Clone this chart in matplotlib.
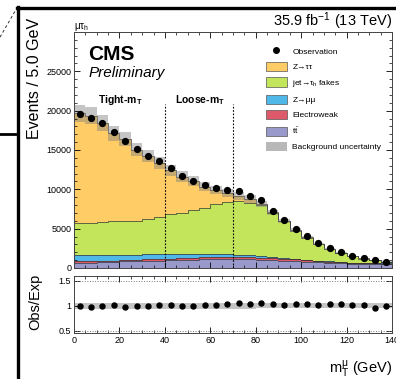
import numpy as np
import matplotlib
matplotlib.use("Agg")
import matplotlib.pyplot as plt
from matplotlib.patches import Patch
from matplotlib.lines import Line2D

plt.rcParams['font.family'] = ['Liberation Sans', 'DejaVu Sans']
plt.rcParams['mathtext.fontset'] = 'custom'
plt.rcParams['mathtext.rm'] = 'Liberation Sans'
plt.rcParams['mathtext.it'] = 'Liberation Sans:italic'
plt.rcParams['mathtext.bf'] = 'Liberation Sans:bold'

# ---------------- data (mT of the muon, 5 GeV bins) ----------------
bin_edges = np.arange(0, 145, 5)

observed = [19540, 19110, 18400, 17340, 16170, 15120, 14230, 13550, 12670, 11710,
            11110, 10610, 10190, 9940, 9760, 9090, 8590, 7290, 6150, 5010,
            4040, 3120, 2490, 2020, 1520, 1220, 960, 800]

ttbar = [680, 690, 700, 710, 860, 880, 900, 930, 980, 1020,
         1060, 1090, 1100, 1110, 1100, 1080, 1040, 1000, 950, 880,
         800, 720, 650, 600, 560, 530, 510, 490]
ewk = [200, 200, 200, 200, 180, 190, 200, 200, 220, 230,
       240, 250, 260, 260, 260, 260, 250, 240, 230, 210,
       190, 170, 150, 130, 110, 100, 90, 80]
zmm = [720, 720, 710, 700, 560, 560, 700, 680, 600, 560,
       520, 480, 430, 380, 320, 260, 200, 150, 110, 80,
       60, 40, 30, 20, 15, 10, 8, 5]
fakes = [4120, 4150, 4240, 4330, 4380, 4310, 4470, 4670, 5020, 5220,
         5510, 5850, 6290, 6630, 6820, 6650, 6470, 5600, 4650, 3590,
         2810, 2100, 1580, 1180, 795, 560, 392, 220]
ztt = [13960, 13600, 12550, 11180, 10400, 9070, 7960, 6900, 5600, 4600,
       3700, 2660, 1840, 1110, 650, 490, 150, 70, 50, 30,
       20, 15, 10, 10, 10, 10, 10, 10]
rel_unc = [0.055, 0.055, 0.055, 0.055, 0.055, 0.055, 0.055, 0.055, 0.055, 0.055,
           0.055, 0.055, 0.055, 0.055, 0.055, 0.055, 0.05, 0.05, 0.05, 0.05,
           0.05, 0.05, 0.05, 0.05, 0.05, 0.05, 0.05, 0.05]

# stack order bottom -> top
stack = [ttbar, ewk, zmm, fakes, ztt]
colors = ["#9999CC", "#DE5A6A", "#4FB8E8", "#C2E55C", "#FFCC66"]
labels = [r"t$\bar{\mathrm{t}}$", "Electroweak", "Z→μμ", r"jet→τ$_\mathrm{h}$ fakes", "Z→ττ"]

centers = 0.5 * (bin_edges[:-1] + bin_edges[1:])
obs = np.array(observed, dtype=float)

fig = plt.figure(figsize=(3.96, 3.79), dpi=100)
ax = fig.add_axes([0.187, 0.2929, 0.803, 0.6227])
rax = fig.add_axes([0.187, 0.1206, 0.803, 0.1512], sharex=ax)

# ---------------- main panel ----------------
base = np.zeros(len(centers))
for vals, col in zip(stack, colors):
    top = base + np.array(vals)
    ax.stairs(top, bin_edges, baseline=base, fill=True, color=col, lw=0)
    ax.stairs(top, bin_edges, color="#333333", lw=0.5)
    base = top
total = base
unc = total * np.array(rel_unc)
ax.stairs(total + unc, bin_edges, baseline=total - unc, fill=True,
          color="#808080", alpha=0.45, lw=0)

ax.errorbar(centers, obs, yerr=np.sqrt(obs), fmt="o", color="black", ms=4.2,
            elinewidth=0.8, capsize=0)

for xcut in (40, 70):
    ax.plot([xcut, xcut], [0, 20800], color="black", lw=0.8, ls=(0, (1.5, 1.5)))

ax.text(10.5, 21000, r"Tight-m$_\mathbf{T}$", fontsize=7.5, fontweight="bold")
ax.text(44.5, 21000, r"Loose-m$_\mathbf{T}$", fontsize=7.5, fontweight="bold")

ax.set_xlim(0, 140)
ax.set_ylim(0, 30000)
ax.set_yticks([0, 5000, 10000, 15000, 20000, 25000])
ax.set_yticks(np.arange(0, 30001, 1000), minor=True)
ax.set_xticks(np.arange(0, 141, 5), minor=True)
ax.tick_params(labelbottom=False)

ax.text(0.044, 0.88, "CMS", transform=ax.transAxes, fontsize=15, fontweight="bold")
ax.text(0.044, 0.808, "Preliminary", transform=ax.transAxes, fontsize=11, style="italic")
ax.text(0.0, 1.012, r"μτ$_\mathrm{h}$", transform=ax.transAxes, fontsize=7)
ax.text(1.0, 1.025, r"35.9 fb$^{-1}$ (13 TeV)", transform=ax.transAxes,
        fontsize=10.5, ha="right")

ax.set_ylabel("Events / 5.0 GeV", fontsize=11.5, loc="top")
ax.yaxis.set_label_coords(-0.1, 1.06)

handles = [Line2D([], [], color="black", marker="o", ms=4, lw=0)]
leg_labels = ["Observation"]
for col, lab in zip(colors[::-1], labels[::-1]):
    handles.append(Patch(facecolor=col, edgecolor="#555555", lw=0.5))
    leg_labels.append(lab)
handles.append(Patch(facecolor="#b8b8b8", edgecolor="none"))
leg_labels.append("Background uncertainty")
ax.legend(handles, leg_labels, loc="upper left", bbox_to_anchor=(0.59, 0.955),
          frameon=False, fontsize=6, handlelength=2.5, handleheight=1.3,
          labelspacing=0.72, borderpad=0, handletextpad=0.7)

# ---------------- ratio panel ----------------
ratio = obs / total
rax.stairs(1 + np.array(rel_unc), bin_edges, baseline=1 - np.array(rel_unc),
           fill=True, color="#808080", alpha=0.45, lw=0)
rax.errorbar(centers, ratio, yerr=np.sqrt(obs) / total, fmt="o", color="black",
             ms=3.6, elinewidth=0.8, capsize=0)
rax.axhline(1.5, color="#777777", lw=0.7, ls=":")
rax.axhline(0.5, color="#777777", lw=0.7, ls=":")
rax.set_ylim(0.45, 1.6)
rax.set_yticks([0.5, 1, 1.5])
rax.set_yticklabels(["0.5", "1", "1.5"])
rax.set_xticks([0, 20, 40, 60, 80, 100, 120, 140])
rax.set_ylabel("Obs/Exp", fontsize=10.5)
rax.yaxis.set_label_coords(-0.1, 0.55)
rax.set_xlabel(r"m$_\mathrm{T}^\mathrm{μ}$ (GeV)", fontsize=10.5, loc="right")
rax.xaxis.set_label_coords(1.0, -0.44)

for a in (ax, rax):
    a.tick_params(which="both", direction="in", top=True, right=True, labelsize=6.5, pad=2)
    a.tick_params(which="major", length=4, width=0.6)
    a.tick_params(which="minor", length=2, width=0.5)
    for s in a.spines.values():
        s.set_linewidth(0.7)
        s.set_color("#444444")

# ---------------- surrounding frame of the screenshot ----------------
fig.add_artist(Line2D([0.043, 1.0], [0.979, 0.979], color="black", lw=2.4,
                      transform=fig.transFigure))
fig.add_artist(Line2D([0.0467, 0.0467], [0.0, 0.981], color="black", lw=2.4,
                      transform=fig.transFigure))
fig.add_artist(Line2D([0.0, 0.045], [0.6475, 0.6475], color="black", lw=2.0,
                      transform=fig.transFigure))
fig.add_artist(Line2D([0.0, 0.040], [0.902, 0.974], color="#333333", lw=0.7,
                      ls=(0, (3, 2.5)), transform=fig.transFigure))

fig.savefig("out.png", dpi=100)
